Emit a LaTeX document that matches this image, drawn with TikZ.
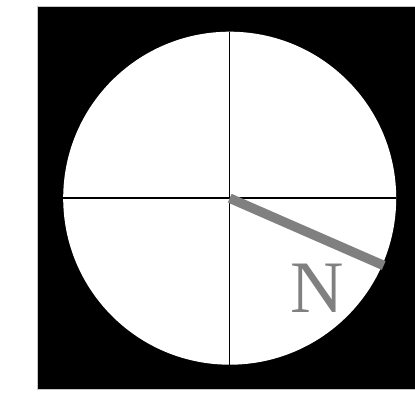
\documentclass[tikz,border=0pt]{standalone}
\usepackage{fontspec}
\setmainfont{Liberation Serif}
\begin{document}
\begin{tikzpicture}[x=1pt,y=-1pt,
  frame/.style={draw=gray!45,line width=1.6pt,fill=black},
  dial/.style={fill=white},
  axis/.style={draw=black,line width=1.5pt},
  needle/.style={draw=gray,line width=9.5pt,line cap=butt},
  label/.style={text=gray,font=\fontsize{74}{74}\selectfont,inner sep=0pt}]
\useasboundingbox (0,0) rectangle (415,393);
\path[frame] (37.5,6.5) rectangle (425,389.5);
\coordinate (c) at (229.7,198.2);
\path[dial] (c) circle[radius=166.5];
\coordinate (l) at (63.2,198.2);
\coordinate (r) at (396.2,198.2);
\coordinate (t) at (229.7,31.7);
\coordinate (b) at (229.7,364.7);
\draw[axis] (l) -- (r);
\draw[axis] (t) -- (b);
\coordinate (tip) at (383.7,265.5);
\draw[needle] (c) -- (tip);
\node[label] (n) at (317,288) {N};
\end{tikzpicture}
\end{document}
